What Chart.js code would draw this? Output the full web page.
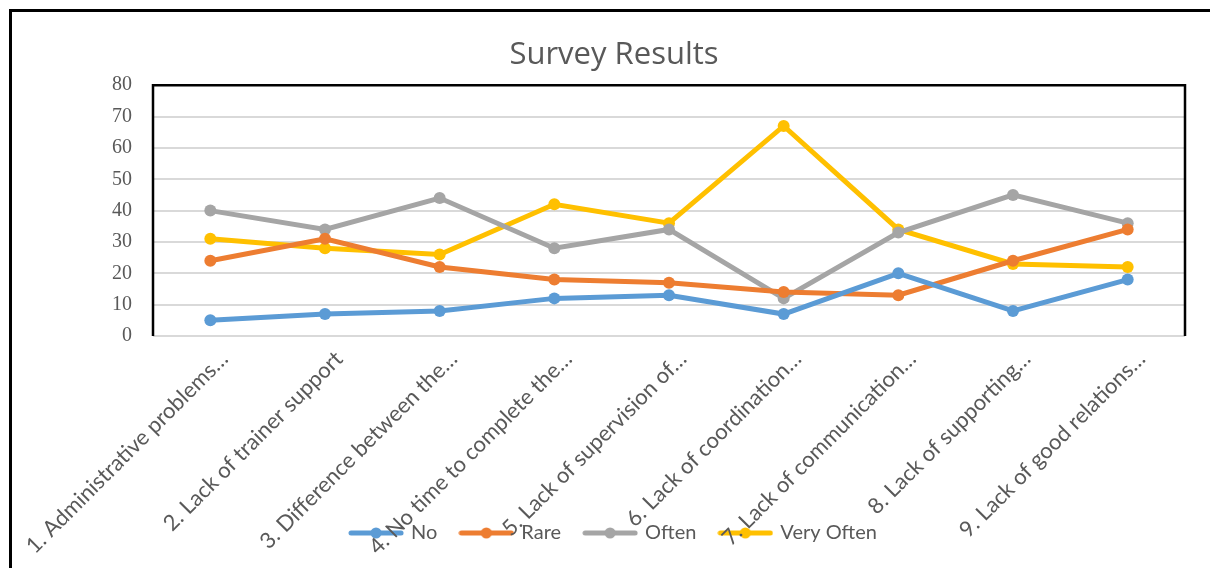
<!DOCTYPE html>
<html lang="en">
<head>
  <meta charset="UTF-8">
  <title>Survey Results</title>
  <script src="https://cdn.jsdelivr.net/npm/chart.js"></script>
  <style>
    html, body {
      margin: 0;
      padding: 0;
      background: #fff;
    }
    .wrap {
      position: relative;
      width: 1210px;
      height: 568px;
      overflow: hidden;
    }
    .frame {
      position: absolute;
      left: 9px;
      top: 9px;
      width: 1300px;
      height: 700px;
      border-left: 3px solid #000;
      border-top: 3px solid #000;
      pointer-events: none;
    }
    canvas {
      position: absolute;
      left: 0;
      top: 0;
    }
  </style>
</head>
<body>
  <div class="wrap">
    <canvas id="surveyChart" width="1210" height="568"></canvas>
    <div class="frame"></div>
  </div>

  <script>
    const categories = [
      "1. Administrative problems\u2026",
      "2. Lack of trainer support",
      "3. Difference between the\u2026",
      "4. No time to complete the\u2026",
      "5. Lack of supervision of\u2026",
      "6. Lack of coordination\u2026",
      "7. Lack of communication\u2026",
      "8. Lack of supporting\u2026",
      "9. Lack of good relations\u2026"
    ];
    const seriesNames = ["No", "Rare", "Often", "Very Often"];
    const noValues = [5, 7, 8, 12, 13, 7, 20, 8, 18];
    const rareValues = [24, 31, 22, 18, 17, 14, 13, 24, 34];
    const oftenValues = [40, 34, 44, 28, 34, 12, 33, 45, 36];
    const veryOftenValues = [31, 28, 26, 42, 36, 67, 34, 23, 22];
    const colors = ['#5B9BD5', '#ED7D31', '#A5A5A5', '#FFC000'];

    const PLOT_BOTTOM = 336;
    const LEGEND_PAD = 24;
    const LEGEND_FONT = 20;
    const LEGEND_CENTER_Y = 533;

    // legend swatch: short thick line with a dot in the middle (Excel style)
    function swatch(color) {
      const c = document.createElement('canvas');
      c.width = 56;
      c.height = 14;
      const g = c.getContext('2d');
      g.strokeStyle = color;
      g.lineWidth = 5;
      g.lineCap = 'round';
      g.beginPath();
      g.moveTo(3, 7);
      g.lineTo(53, 7);
      g.stroke();
      g.fillStyle = color;
      g.beginPath();
      g.arc(28, 7, 5.5, 0, Math.PI * 2);
      g.fill();
      return c;
    }

    const allValues = [noValues, rareValues, oftenValues, veryOftenValues];
    const datasets = seriesNames.map((name, i) => ({
      label: name,
      data: allValues[i],
      borderColor: colors[i],
      backgroundColor: colors[i],
      borderWidth: 5,
      pointRadius: 6,
      pointBackgroundColor: colors[i],
      pointBorderWidth: 0,
      tension: 0
    }));

    const plotFrame = {
      id: 'plotFrame',
      afterLayout(chart) {
        // Excel lets the legend sit over the rotated labels
        const lg = chart.legend;
        const h = lg.bottom - lg.top;
        lg.top = LEGEND_CENTER_Y - LEGEND_PAD - LEGEND_FONT / 2;
        lg.bottom = lg.top + h;
        chart.scales.x.bottom = chart.height;
      },
      // black frame around left, top, right of plot area
      afterDatasetsDraw(chart) {
        const { ctx, chartArea: a } = chart;
        ctx.save();
        ctx.strokeStyle = '#000';
        ctx.lineWidth = 2.5;
        ctx.beginPath();
        ctx.moveTo(a.left, a.bottom);
        ctx.lineTo(a.left, a.top);
        ctx.lineTo(a.right, a.top);
        ctx.lineTo(a.right, a.bottom);
        ctx.stroke();
        ctx.restore();
      }
    };

    const ctx = document.getElementById('surveyChart').getContext('2d');
    new Chart(ctx, {
      type: 'line',
      data: { labels: categories, datasets: datasets },
      options: {
        responsive: false,
        animation: false,
        layout: { padding: { top: 16, right: 25, bottom: 0, left: 43 } },
        plugins: {
          title: {
            display: true,
            text: 'Survey Results',
            color: '#595959',
            font: { family: 'Open Sans', size: 31, weight: 'normal' },
            padding: { top: 20.5, bottom: 11.5 }
          },
          legend: {
            position: 'bottom',
            labels: {
              color: '#595959',
              font: { family: 'Lato', size: LEGEND_FONT },
              usePointStyle: true,
              pointStyleWidth: 50,
              padding: LEGEND_PAD,
              generateLabels(chart) {
                const items = Chart.defaults.plugins.legend.labels.generateLabels(chart);
                items.forEach((it, i) => { it.pointStyle = swatch(colors[i]); });
                return items;
              }
            }
          },
          tooltip: { enabled: false }
        },
        scales: {
          x: {
            offset: true,
            grid: { display: false },
            border: { display: false },
            afterFit(scale) {
              const lg = scale.chart.legend;
              scale.height = 568 - PLOT_BOTTOM - (lg ? lg.height : 0);
            },
            ticks: {
              autoSkip: false,
              minRotation: 45,
              maxRotation: 45,
              padding: 2,
              labelOffset: 14,
              color: '#595959',
              font: { family: 'Lato', size: 22 }
            }
          },
          y: {
            min: 0,
            max: 80,
            afterFit(scale) { scale.width = 110; },
            grid: { color: '#D9D9D9', lineWidth: 2, drawTicks: false },
            border: { display: false },
            ticks: {
              stepSize: 10,
              padding: 21,
              color: '#595959',
              font: { family: 'Liberation Serif', size: 20 }
            }
          }
        }
      },
      plugins: [plotFrame]
    });
  </script>
</body>
</html>
